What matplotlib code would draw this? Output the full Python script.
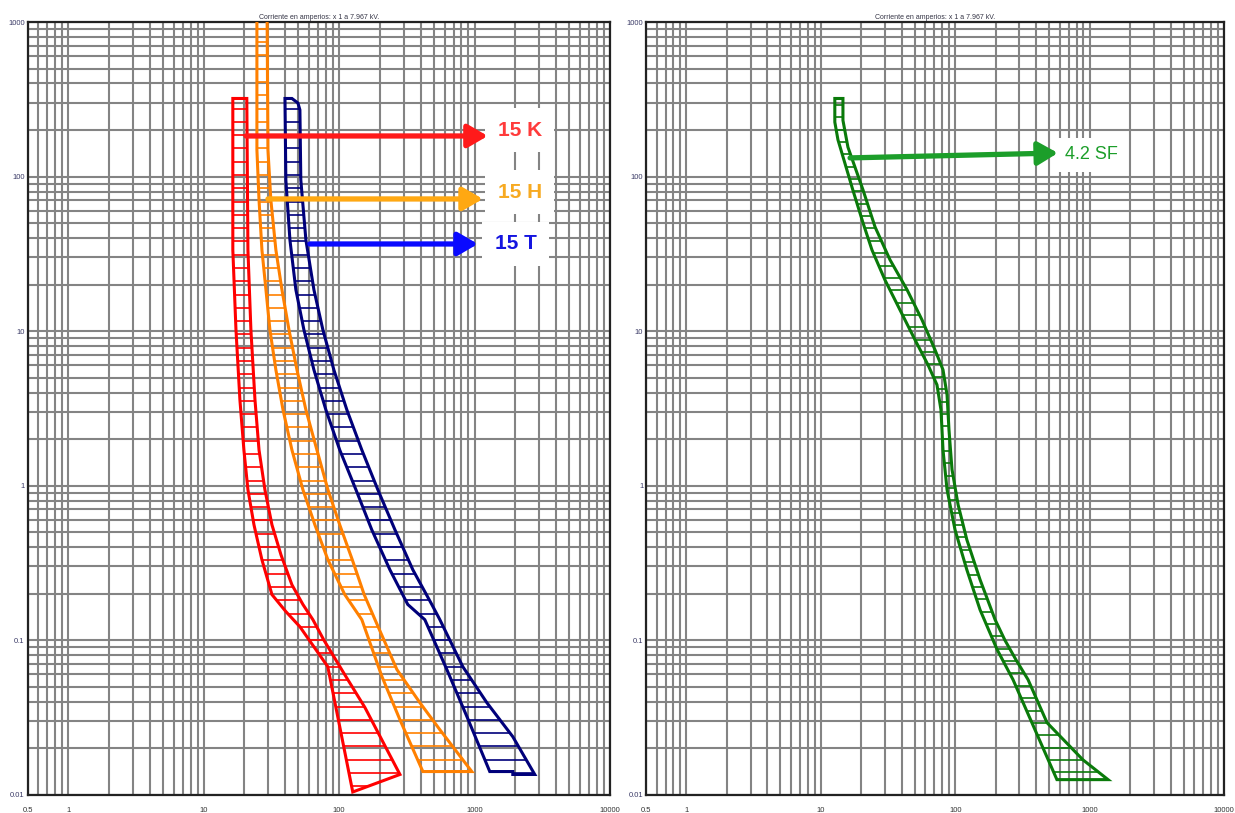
import numpy as np
import matplotlib
matplotlib.use('Agg')
import matplotlib.pyplot as plt
from matplotlib.patches import Polygon
from matplotlib.collections import LineCollection
from matplotlib.ticker import FixedLocator, NullFormatter, FixedFormatter

plt.rcParams['font.family'] = ['Liberation Sans', 'DejaVu Sans']

# ---------------- data (current in A, time in s) ----------------
x_ticks = [0.5, 1, 10, 100, 1000, 10000]
x_tick_labels = ['0.5', '1', '10', '100', '1000', '10000']
y_ticks = [0.01, 0.1, 1, 10, 100, 1000]
y_tick_labels = ['0.01', '0.1', '1', '10', '100', '1000']
title_text = 'Corriente en amperios: x 1 a 7.967 kV.'

# 15 K  (minimum melting / total clearing)
k_mm_I = [16.4, 16.4, 17.3, 18.5, 19.8, 21.2, 23.5, 26.9, 31.9, 40.4, 51.3, 82.4, 126]
k_mm_t = [320, 33.5, 10.2, 3.59, 1.70, 0.94, 0.557, 0.331, 0.197, 0.153, 0.122, 0.0673, 0.0104]
k_tc_I = [20.8, 21.2, 22.3, 23.9, 25.6, 28.3, 31.9, 37.2, 44.8, 54.0, 64.0, 77.1, 110, 155, 281]
k_tc_t = [320, 33.5, 10.2, 3.59, 1.70, 0.94, 0.557, 0.356, 0.228, 0.170, 0.1355, 0.1, 0.0597, 0.0366, 0.0135]

# 15 H
h_mm_I = [24.7, 24.7, 25.6, 26.9, 28.8, 30.8, 34.1, 38.5, 44.8, 54.0, 66.2, 82.6, 110, 147, 207, 281, 415]
h_mm_t = [1500, 149, 70.6, 33.5, 18.5, 10.2, 5.61, 3.09, 1.70, 0.94, 0.557, 0.331, 0.197, 0.1355, 0.058, 0.0305, 0.0141]
h_tc_I = [29.3, 29.8, 31.3, 34.1, 37.8, 42.6, 48.8, 56.8, 68.5, 82.6, 101, 125, 153, 184, 267, 394, 554, 953]
h_tc_t = [1500, 149, 70.6, 33.5, 18.5, 10.2, 5.61, 3.09, 1.70, 0.94, 0.557, 0.331, 0.197, 0.1355, 0.0644, 0.0394, 0.0263, 0.0141]

# 15 T
t_mm_I = [39.8, 40.4, 43.3, 47.9, 54.9, 65.1, 79.8, 101, 133, 174, 237, 321, 429, 624, 877, 1294]
t_mm_t = [320, 95, 38.9, 18.5, 10.2, 5.61, 3.09, 1.70, 0.94, 0.518, 0.285, 0.170, 0.1355, 0.0644, 0.032, 0.0141]
t_tc_I = [44.8, 49.6, 51.3, 52.1, 56.8, 65.1, 75.8, 91.4, 114, 147, 193, 258, 350, 483, 554, 818, 1230, 1914, 2780, 1914, 1914]
t_tc_t = [320, 299, 270, 95, 38.9, 18.5, 10.2, 5.61, 3.09, 1.70, 0.94, 0.518, 0.285, 0.170, 0.1355, 0.0673, 0.0394, 0.0237, 0.0135, 0.0135, 0.0141]

# 4.2 SF
sf_mm_I = [12.7, 12.7, 13.4, 17.3, 20.6, 24.0, 30.0, 38.8, 50.2, 62.7, 73.1, 78.3, 81.1, 86.9, 99.6, 122, 153, 205, 269, 392, 571]
sf_mm_t = [320, 225, 173, 81.8, 50.1, 33.5, 21.4, 13.7, 8.77, 6.04, 4.49, 3.09, 1.70, 0.94, 0.518, 0.285, 0.157, 0.0867, 0.0555, 0.0263, 0.0125]
sf_tc_I = [14.6, 14.6, 15.9, 20.6, 25.3, 32.7, 43.8, 56.6, 70.7, 81.1, 86.9, 89.8, 94.6, 105, 122, 153, 198, 234, 283, 348, 482, 891, 1371]
sf_tc_t = [320, 231, 155, 81.8, 47.2, 28.9, 18.5, 11.8, 7.56, 5.61, 3.86, 2.30, 1.27, 0.752, 0.446, 0.246, 0.1355, 0.1, 0.0746, 0.0555, 0.0292, 0.0168, 0.0125]

# labels / arrows: (text, text I, text t, arrow start I, start t, arrow end I, end t)
labels_left = [
    ('15 K', 1483, 200, 20.5, 183, 1250, 183),
    ('15 H', 1483, 79.4, 29.8, 71.6, 1150, 71.6),
    ('15 T', 1410, 36.6, 60.8, 36.6, 1057, 36.6),
]
labels_right = [
    ('4.2 SF', 656, 138, 16.5, 132, 581, 142),
]

# ---------------- styles ----------------
RED, RED_A, RED_T = '#ff0000', '#ff1a1a', '#ff3b3b'
ORG, ORG_A, ORG_T = '#ff8000', '#ffa812', '#f7aa22'
NAV, BLU_A, BLU_T = '#00007a', '#0a0aff', '#1515e0'
GRN, GRN_A, GRN_T = '#0a7a0a', '#1c9e2a', '#1c9e2a'
GRID = '#848484'


def grid_values(lo_exp, hi_exp):
    vals = []
    for e in range(lo_exp, hi_exp + 1):
        for m in range(1, 10):
            vals.append(m * 10.0 ** e)
    return vals


def setup_axes(ax):
    ax.set_xscale('log')
    ax.set_yscale('log')
    ax.set_xlim(0.5, 10000)
    ax.set_ylim(0.01, 1000)
    ax.set_axisbelow(True)
    xv = [v for v in grid_values(-1, 4) if 0.5 <= v <= 10000]
    yv = [v for v in grid_values(-2, 3) if 0.01 <= v <= 1000]
    ax.xaxis.set_major_locator(FixedLocator(x_ticks))
    ax.xaxis.set_major_formatter(FixedFormatter(x_tick_labels))
    ax.xaxis.set_minor_locator(FixedLocator([v for v in xv if v not in x_ticks]))
    ax.xaxis.set_minor_formatter(NullFormatter())
    ax.yaxis.set_major_locator(FixedLocator(y_ticks))
    ax.yaxis.set_major_formatter(FixedFormatter(y_tick_labels))
    ax.yaxis.set_minor_locator(FixedLocator([v for v in yv if v not in y_ticks]))
    ax.yaxis.set_minor_formatter(NullFormatter())
    ax.grid(True, which='both', color=GRID, lw=1.5)
    ax.tick_params(which='both', length=0)
    ax.tick_params(axis='x', labelsize=5.5, pad=9, labelcolor='#333333')
    ax.tick_params(axis='y', labelsize=5.5, pad=2, labelcolor='#3a3a66')
    for s in ax.spines.values():
        s.set_color('#222222')
        s.set_linewidth(1.6)
    ax.set_title(title_text, fontsize=5, pad=2.5, color='#333344')


def draw_band(ax, mm_I, mm_t, tc_I, tc_t, color, step, anchor):
    verts = list(zip(mm_I, mm_t)) + list(zip(tc_I[::-1], tc_t[::-1]))
    poly = Polygon(verts, closed=True, fill=False, edgecolor=color, lw=2.2,
                   joinstyle='miter', zorder=4)
    ax.add_patch(poly)
    all_t = mm_t + tc_t
    all_I = mm_I + tc_I
    lo, hi = np.log10(min(all_t)), np.log10(max(all_t))
    n0 = int(np.floor((lo - anchor) / step))
    n1 = int(np.ceil((hi - anchor) / step))
    ts = [10 ** (anchor + step * n) for n in range(n0, n1 + 1)]
    x0, x1 = min(all_I) / 2, max(all_I) * 2
    lc = LineCollection([[(x0, t), (x1, t)] for t in ts], colors=color,
                        lw=1.2, zorder=3)
    ax.add_collection(lc, autolim=False)
    lc.set_clip_path(poly)


def draw_label(ax, text, tx, ty, ax0, ay0, ax1, ay1, tcol, acol, size, weight, pad):
    ax.text(tx, ty, text, color=tcol, fontsize=size, fontweight=weight,
            ha='left', va='center', zorder=5,
            bbox=dict(facecolor='white', edgecolor='none',
                      boxstyle='square,pad=%.2f' % pad))
    ax.annotate('', xy=(ax1, ay1), xytext=(ax0, ay0), zorder=6,
                arrowprops=dict(arrowstyle='-|>,head_length=0.6,head_width=0.35',
                                mutation_scale=20, lw=3.8, color=acol,
                                shrinkA=0, shrinkB=0))


fig = plt.figure(figsize=(12.35, 8.13), dpi=100)
ax1 = fig.add_axes([0.02227, 0.02263, 0.4717, 0.9503])
ax2 = fig.add_axes([0.5231, 0.02263, 0.4680, 0.9503])
setup_axes(ax1)
setup_axes(ax2)

draw_band(ax1, k_mm_I, k_mm_t, k_tc_I, k_tc_t, RED, 0.086, -1.0)
draw_band(ax1, h_mm_I, h_mm_t, h_tc_I, h_tc_t, ORG, 0.086, -1.0)
draw_band(ax1, t_mm_I, t_mm_t, t_tc_I, t_tc_t, NAV, 0.086, -1.0)
draw_band(ax2, sf_mm_I, sf_mm_t, sf_tc_I, sf_tc_t, GRN, 0.080, -1.856)

cols = [(RED_T, RED_A), (ORG_T, ORG_A), (BLU_T, BLU_A)]
for (lab, tx, ty, a0x, a0y, a1x, a1y), (tc, ac) in zip(labels_left, cols):
    draw_label(ax1, lab, tx, ty, a0x, a0y, a1x, a1y, tc, ac, 15, 'bold', 0.6)
for lab, tx, ty, a0x, a0y, a1x, a1y in labels_right:
    draw_label(ax2, lab, tx, ty, a0x, a0y, a1x, a1y, GRN_T, GRN_A, 13, 'normal', 0.45)

fig.savefig('out.png', dpi=100)
